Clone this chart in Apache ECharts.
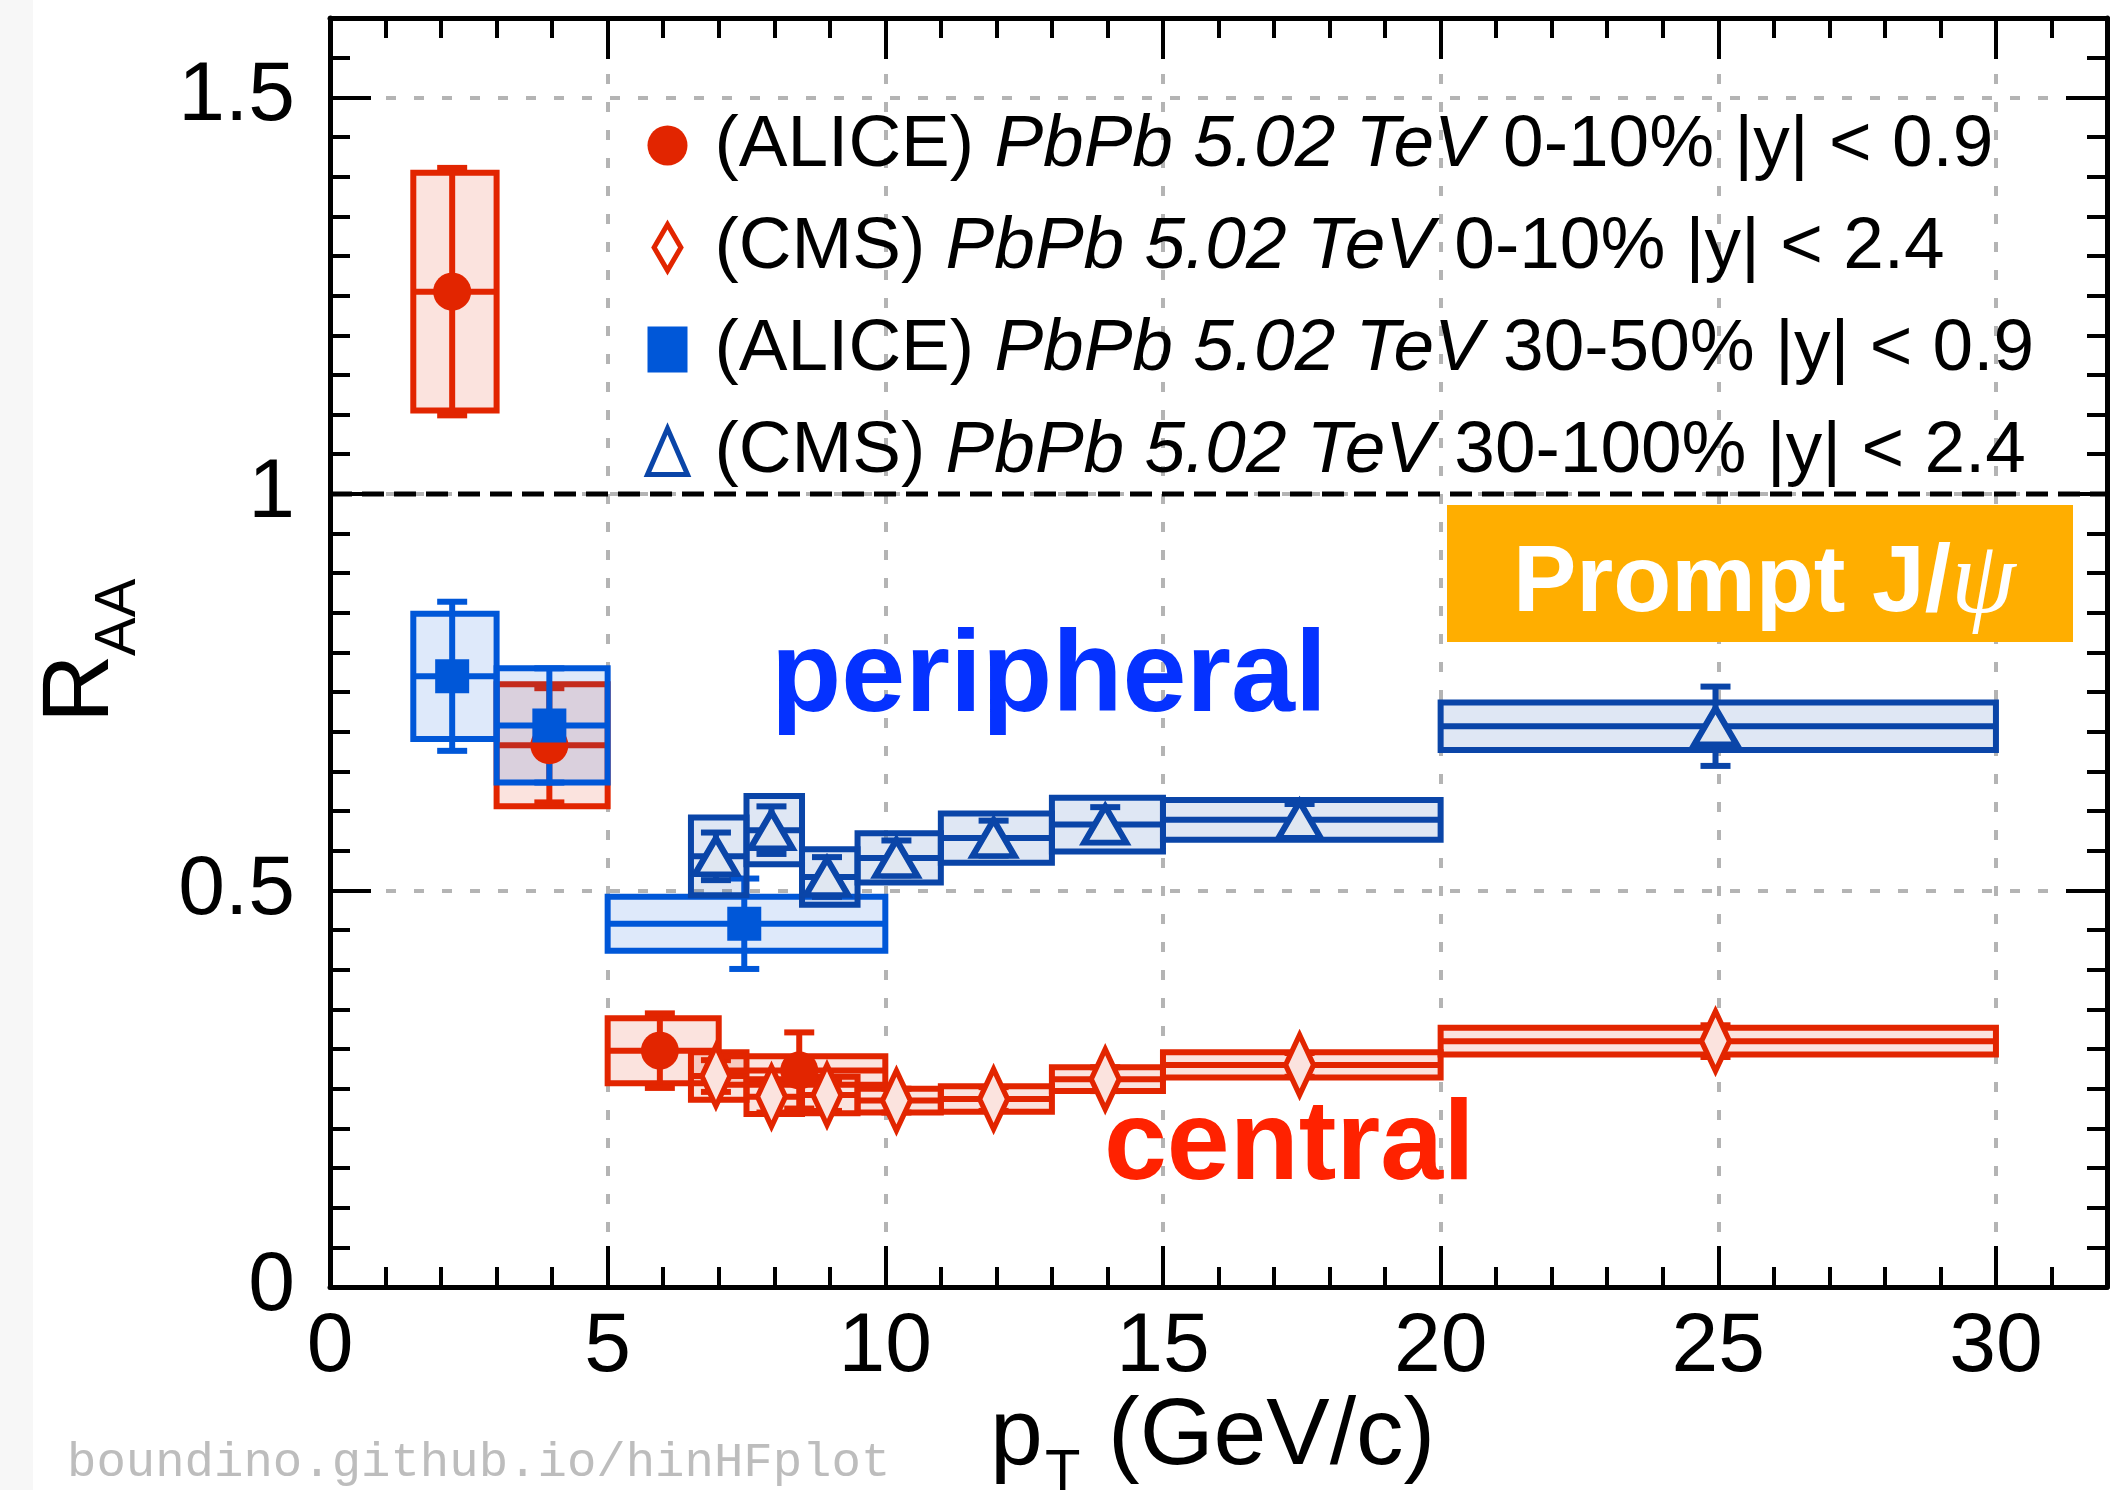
<!DOCTYPE html>
<html>
<head>
<meta charset="utf-8">
<title>Prompt J/psi RAA</title>
<script src="https://cdn.jsdelivr.net/npm/echarts@6/dist/echarts.min.js"></script>
<style>
  html, body { margin: 0; padding: 0; background: #fff; }
  #chart { width: 2111px; height: 1490px; }
</style>
</head>
<body>
<div id="chart"></div>
<script>
// tick labels
const xTicks = [0, 5, 10, 15, 20, 25, 30];
const yTicks = [0, 0.5, 1, 1.5];
const unityLine = [[0, 1], [32, 1]];

// ALICE 0-10% |y|<0.9
const aliceCentPt = [2.2, 3.95, 5.94, 8.45];
const aliceCentLo = [1.5, 3, 5, 7];
const aliceCentHi = [3, 5, 7, 10];
const aliceCentRaa = [1.255, 0.683, 0.298, 0.273];
const aliceCentStat = [0.156, 0.072, 0.047, 0.048];
const aliceCentSyst = [0.150, 0.077, 0.041, 0.018];

// ALICE 30-50% |y|<0.9
const aliceSemiPt = [2.2, 3.95, 7.46];
const aliceSemiLo = [1.5, 3, 5];
const aliceSemiHi = [3, 5, 10];
const aliceSemiRaa = [0.770, 0.708, 0.458];
const aliceSemiStat = [0.094, 0.072, 0.057];
const aliceSemiSyst = [0.079, 0.072, 0.034];

// CMS bins (both centralities)
const cmsPt = [6.95, 7.95, 8.95, 10.2, 11.95, 13.96, 17.46, 24.95];
const cmsLo = [6.5, 7.5, 8.5, 9.5, 11, 13, 15, 20];
const cmsHi = [7.5, 8.5, 9.5, 11, 13, 15, 20, 30];

// CMS 0-10% |y|<2.4
const cmsCentRaa = [0.266, 0.240, 0.242, 0.235, 0.237, 0.262, 0.280, 0.310];
const cmsCentStat = [0.020, 0.020, 0.020, 0.015, 0.015, 0.015, 0.015, 0.020];
const cmsCentSyst = [0.030, 0.022, 0.023, 0.015, 0.016, 0.015, 0.016, 0.017];

// CMS 30-100% |y|<2.4
const cmsSemiRaa = [0.543, 0.576, 0.517, 0.541, 0.566, 0.583, 0.589, 0.707];
const cmsSemiStat = [0.030, 0.030, 0.025, 0.022, 0.022, 0.022, 0.020, 0.050];
const cmsSemiSyst = [0.049, 0.043, 0.035, 0.031, 0.031, 0.034, 0.025, 0.030];

const legendText = {
  aliceCent: ['(ALICE) ', 'PbPb 5.02 TeV', ' 0-10% |y| < 0.9'],
  cmsCent: ['(CMS) ', 'PbPb 5.02 TeV', ' 0-10% |y| < 2.4'],
  aliceSemi: ['(ALICE) ', 'PbPb 5.02 TeV', ' 30-50% |y| < 0.9'],
  cmsSemi: ['(CMS) ', 'PbPb 5.02 TeV', ' 30-100% |y| < 2.4']
};

const red = '#e22500';
const redFill = 'rgba(226,37,0,0.13)';
const redFillSolid = '#fbe3de';
const blueA = '#0057d8';
const blueAFill = 'rgba(0,87,216,0.13)';
const blueC = '#0a45a8';
const blueCFill = 'rgba(10,69,168,0.13)';
const blueCFillSolid = '#e0e7f1';
const font = 'Liberation Sans';
const lw = 6;

const rows = (pt, lo, hi, r, e) => pt.map((x, i) => [x, r[i], lo[i], hi[i], e[i]]);

function boxSeries(data, color, fill) {
  return {
    type: 'custom',
    silent: true,
    data: data,
    encode: { x: [0, 2, 3], y: 1 },
    renderItem: (params, api) => {
      const y = api.value(1), lo = api.value(2), hi = api.value(3), s = api.value(4);
      const tl = api.coord([lo, y + s]);
      const br = api.coord([hi, y - s]);
      const cl = api.coord([lo, y]);
      const cr = api.coord([hi, y]);
      return {
        type: 'group',
        children: [
          { type: 'rect', shape: { x: tl[0], y: tl[1], width: br[0] - tl[0], height: br[1] - tl[1] },
            style: { fill: fill, stroke: color, lineWidth: lw } },
          { type: 'line', shape: { x1: cl[0], y1: cl[1], x2: cr[0], y2: cr[1] },
            style: { stroke: color, lineWidth: lw } }
        ]
      };
    }
  };
}

function errSeries(data, color) {
  return {
    type: 'custom',
    silent: true,
    data: data,
    encode: { x: 0, y: 1 },
    renderItem: (params, api) => {
      const x = api.value(0), y = api.value(1), e = api.value(4);
      const top = api.coord([x, y + e]);
      const bot = api.coord([x, y - e]);
      const cap = 15;
      const st = { stroke: color, lineWidth: lw };
      return {
        type: 'group',
        children: [
          { type: 'line', shape: { x1: top[0], y1: top[1], x2: bot[0], y2: bot[1] }, style: st },
          { type: 'line', shape: { x1: top[0] - cap, y1: top[1], x2: top[0] + cap, y2: top[1] }, style: st },
          { type: 'line', shape: { x1: bot[0] - cap, y1: bot[1], x2: bot[0] + cap, y2: bot[1] }, style: st }
        ]
      };
    }
  };
}

function markerSeries(name, pt, r, symbol, size, itemStyle) {
  return {
    type: 'scatter',
    name: name,
    data: pt.map((x, i) => [x, r[i]]),
    symbol: symbol,
    symbolSize: size,
    itemStyle: Object.assign({ opacity: 1 }, itemStyle),
    silent: true
  };
}

const cmsCentRows = rows(cmsPt, cmsLo, cmsHi, cmsCentRaa, cmsCentSyst);
const cmsCentErr = rows(cmsPt, cmsLo, cmsHi, cmsCentRaa, cmsCentStat);
const aliceCentRows = rows(aliceCentPt, aliceCentLo, aliceCentHi, aliceCentRaa, aliceCentSyst);
const aliceCentErr = rows(aliceCentPt, aliceCentLo, aliceCentHi, aliceCentRaa, aliceCentStat);
const aliceSemiRows = rows(aliceSemiPt, aliceSemiLo, aliceSemiHi, aliceSemiRaa, aliceSemiSyst);
const aliceSemiErr = rows(aliceSemiPt, aliceSemiLo, aliceSemiHi, aliceSemiRaa, aliceSemiStat);
const cmsSemiRows = rows(cmsPt, cmsLo, cmsHi, cmsSemiRaa, cmsSemiSyst);
const cmsSemiErr = rows(cmsPt, cmsLo, cmsHi, cmsSemiRaa, cmsSemiStat);

function majorAxis(pos, max, interval, labels, margin) {
  return {
    type: 'value', position: pos, min: 0, max: max, interval: interval,
    axisLine: { show: true, onZero: false, lineStyle: { color: '#000', width: 5 } },
    axisTick: { show: true, inside: true, length: 41, lineStyle: { color: '#000', width: 4 } },
    axisLabel: {
      show: labels !== null, margin: margin, fontSize: 84, fontFamily: font, color: '#000',
      showMaxLabel: false,
      formatter: v => (labels && labels.includes(v)) ? String(v) : ''
    },
    splitLine: { show: labels !== null, lineStyle: { color: '#b4b4b4', width: 4, type: [10, 18] } }
  };
}
function minorAxis(pos, max, interval) {
  return {
    type: 'value', position: pos, min: 0, max: max, interval: interval,
    axisLine: { show: false, onZero: false },
    axisTick: { show: true, inside: true, length: 20, lineStyle: { color: '#000', width: 4 } },
    axisLabel: { show: false },
    splitLine: { show: false }
  };
}

const chart = echarts.init(document.getElementById('chart'), null, { renderer: 'canvas' });
chart.setOption({
  animation: false,
  backgroundColor: '#fff',
  textStyle: { fontFamily: font },
  grid: { left: 330, right: 4, top: 18, bottom: 203, containLabel: false },
  xAxis: [
    majorAxis('bottom', 32, 5, xTicks, 19),
    minorAxis('bottom', 32, 1),
    majorAxis('top', 32, 5, null, 0),
    minorAxis('top', 32, 1)
  ],
  yAxis: [
    majorAxis('left', 1.6, 0.5, yTicks, 35),
    minorAxis('left', 1.6, 0.05),
    majorAxis('right', 1.6, 0.5, null, 0),
    minorAxis('right', 1.6, 0.05)
  ],
  legend: {
    orient: 'vertical',
    left: 640,
    top: 104,
    itemWidth: 40,
    itemHeight: 46,
    itemGap: 29,
    selectedMode: false,
    data: [
      { name: 'aliceCent' },
      { name: 'cmsCent', icon: 'path://M14,0 L28,24 L14,48 L0,24 Z',
        itemStyle: { color: '#fff', borderColor: red, borderWidth: 5 } },
      { name: 'aliceSemi' },
      { name: 'cmsSemi', itemStyle: { color: '#fff', borderColor: blueC, borderWidth: 5 } }
    ],
    formatter: name => {
      const t = legendText[name];
      return '{a|' + t[0] + '}{i|' + t[1] + '}{n|' + t[2] + '}';
    },
    textStyle: {
      rich: {
        a: { fontSize: 73, fontFamily: font, color: '#000', lineHeight: 80, padding: [0, 0, 0, 22] },
        i: { fontSize: 73, fontFamily: font, color: '#000', lineHeight: 80, fontStyle: 'italic' },
        n: { fontSize: 73, fontFamily: font, color: '#000', lineHeight: 80 }
      }
    }
  },
  series: [
    {
      type: 'line', data: unityLine, showSymbol: false, silent: true,
      lineStyle: { color: '#000', width: 5, type: [22, 10] }
    },
    boxSeries(cmsCentRows, red, redFill),
    errSeries(cmsCentErr, red),
    markerSeries('cmsCent', cmsPt, cmsCentRaa, 'diamond', [28, 60],
      { color: redFillSolid, borderColor: red, borderWidth: 6 }),
    boxSeries(aliceCentRows, red, redFill),
    errSeries(aliceCentErr, red),
    markerSeries('aliceCent', aliceCentPt, aliceCentRaa, 'circle', 38, { color: red }),
    boxSeries(aliceSemiRows, blueA, blueAFill),
    errSeries(aliceSemiErr, blueA),
    markerSeries('aliceSemi', aliceSemiPt, aliceSemiRaa, 'rect', 34, { color: blueA }),
    boxSeries(cmsSemiRows, blueC, blueCFill),
    errSeries(cmsSemiErr, blueC),
    markerSeries('cmsSemi', cmsPt, cmsSemiRaa, 'triangle', [42, 36],
      { color: blueCFillSolid, borderColor: blueC, borderWidth: 6 })
  ],
  graphic: [
    { type: 'rect', z: -10, shape: { x: 0, y: 0, width: 33, height: 1490 }, style: { fill: '#f7f7f7' } },
    { type: 'text', z: 100, x: 82, y: 723, rotation: Math.PI / 2,
      style: { text: 'R', fontSize: 95, fontFamily: font, fill: '#000', align: 'left', verticalAlign: 'middle' } },
    { type: 'text', z: 100, x: 119, y: 656, rotation: Math.PI / 2,
      style: { text: 'AA', fontSize: 58, fontFamily: font, fill: '#000', align: 'left', verticalAlign: 'middle' } },
    { type: 'text', z: 100, x: 990, y: 1438,
      style: { text: 'p', fontSize: 95, fontFamily: font, fill: '#000', align: 'left', verticalAlign: 'middle' } },
    { type: 'text', z: 100, x: 1045, y: 1474,
      style: { text: 'T', fontSize: 58, fontFamily: font, fill: '#000', align: 'left', verticalAlign: 'middle' } },
    { type: 'text', z: 100, x: 1108, y: 1438,
      style: { text: '(GeV/c)', fontSize: 95, fontFamily: font, fill: '#000', align: 'left', verticalAlign: 'middle' } },
    { type: 'text', z: 100, x: 67, y: 1463,
      style: { text: 'boundino.github.io/hinHFplot', fontSize: 49, fontFamily: 'Liberation Mono', fill: '#bdbdbd', align: 'left', verticalAlign: 'middle' } },
    { type: 'text', z: 100, x: 771, y: 679,
      style: { text: 'peripheral', fontSize: 115, fontWeight: 'bold', fontFamily: font, fill: '#0532ff', align: 'left', verticalAlign: 'middle' } },
    { type: 'text', z: 100, x: 1104, y: 1148,
      style: { text: 'central', fontSize: 113, fontWeight: 'bold', fontFamily: font, fill: '#ff2200', align: 'left', verticalAlign: 'middle' } },
    { type: 'rect', z: 100, shape: { x: 1447, y: 505, width: 626, height: 137 }, style: { fill: '#ffae00' } },
    { type: 'text', z: 101, x: 1513, y: 585,
      style: {
        text: '{b|Prompt J/}{p|ψ}',
        align: 'left', verticalAlign: 'middle',
        rich: {
          b: { fontSize: 95, fontWeight: 'bold', fontFamily: font, fill: '#fff' },
          p: { fontSize: 104, fontStyle: 'italic', fontFamily: 'Liberation Serif', fill: '#fff' }
        }
      } }
  ]
});
</script>
</body>
</html>
